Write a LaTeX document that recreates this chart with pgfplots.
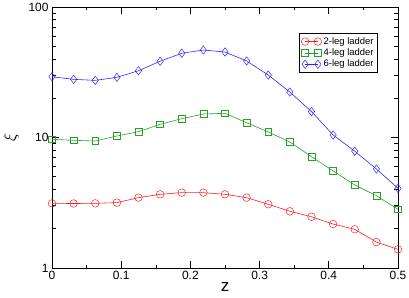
\documentclass[border=0pt]{standalone}
\usepackage{pgfplots}
\pgfplotsset{compat=1.18}
\usepackage{fontspec}
\setmainfont{Liberation Sans}
\definecolor{cred}{RGB}{255,30,30}
\definecolor{cgreen}{RGB}{40,160,40}
\definecolor{cblue}{RGB}{40,40,255}
\begin{document}
\begin{tikzpicture}
\useasboundingbox (-52bp,-30bp) rectangle (357bp,268bp);
\begin{axis}[
  scale only axis, width=346bp, height=261bp,
  xmin=0, xmax=0.5, ymin=1, ymax=100,
  ymode=log,
  axis line style={line width=0.8pt},
  tick style={black, line width=0.6pt},
  tick align=inside,
  major tick length=7bp, minor tick length=3.5bp,
  xtick={0,0.1,0.2,0.3,0.4,0.5},
  xticklabels={0,0.1,0.2,0.3,0.4,0.5},
  minor xtick={0.05,0.15,0.25,0.35,0.45},
  ytick={1,10,100},
  yticklabels={1,10,100},
  ticklabel style={font=\fontsize{12}{14}\selectfont},
  xlabel={z},
  xlabel style={font=\fontsize{17}{18}\selectfont, yshift=4bp},
  legend style={at={(0.942,0.90)}, anchor=north east, font=\fontsize{9.5}{11}\selectfont,
    draw=black, line width=0.6pt, row sep=-1pt, inner sep=2pt},
  legend cell align=left,
  legend image code/.code={\draw[#1] plot coordinates {(0cm,0cm) (0.45cm,0cm)};},
  every axis plot/.append style={line width=0.6pt},
]
\addplot[cred, mark=o, mark size=3.8bp, mark options={solid, line width=0.5pt}] coordinates {
(0.00000,3.13) (0.03125,3.12) (0.06250,3.13) (0.09375,3.17) (0.12500,3.46) (0.15625,3.67)
(0.18750,3.78) (0.21875,3.78) (0.25000,3.67) (0.28125,3.46) (0.31250,3.08) (0.34375,2.72)
(0.37500,2.47) (0.40625,2.17) (0.43750,1.98) (0.46875,1.58) (0.50000,1.39)};
\addlegendentry{2-leg ladder}
\addplot[cgreen, mark=square, mark size=3.4bp, mark options={solid, line width=0.5pt}] coordinates {
(0.00000,9.69) (0.03125,9.52) (0.06250,9.40) (0.09375,10.27) (0.12500,11.08) (0.15625,12.62)
(0.18750,13.94) (0.21875,15.14) (0.25000,15.32) (0.28125,12.98) (0.31250,11.02) (0.34375,9.24)
(0.37500,7.13) (0.40625,5.54) (0.43750,4.33) (0.46875,3.58) (0.50000,2.82)};
\addlegendentry{4-leg ladder}
\addplot[cblue, mark=diamond, mark size=4.2bp, mark options={solid, line width=0.5pt}] coordinates {
(0.00000,29.2) (0.03125,27.9) (0.06250,27.4) (0.09375,28.9) (0.12500,32.5) (0.15625,38.4)
(0.18750,44.2) (0.21875,46.8) (0.25000,45.2) (0.28125,38.6) (0.31250,30.1) (0.34375,22.3)
(0.37500,15.8) (0.40625,10.45) (0.43750,7.85) (0.46875,5.74) (0.50000,4.08)};
\addlegendentry{6-leg ladder}
\end{axis}
\node[rotate=90, font=\fontsize{17}{18}\selectfont] at (-41bp,130.5bp) {$\xi$};
\end{tikzpicture}
\end{document}
